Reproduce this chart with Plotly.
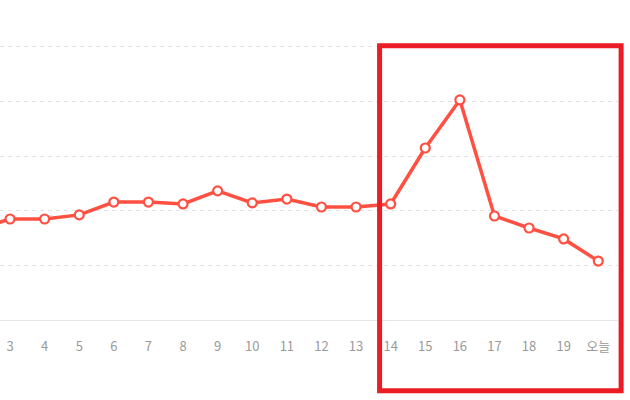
import plotly.graph_objects as go

# Data (first point "2" lies just left of the visible area)
days = ["2", "3", "4", "5", "6", "7", "8", "9", "10", "11", "12", "13",
        "14", "15", "16", "17", "18", "19", "오늘"]
values = [33.0, 37.0, 37.0, 38.5, 43.2, 43.2, 42.5, 47.3, 42.9, 44.3, 41.4, 41.4,
          42.5, 63.0, 80.6, 38.1, 33.7, 29.7, 21.6]
grid_values = [20, 40, 60, 80, 100]
highlight_from, highlight_to = "14", "오늘"

xpos = list(range(len(days)))
x_min, x_max = 0.71, 18.57

fig = go.Figure()
fig.add_trace(go.Scatter(
    x=xpos, y=values, mode="lines+markers",
    line=dict(color="#ff5042", width=3.5),
    marker=dict(size=9, color="white", line=dict(color="#ff5042", width=2.2)),
    hoverinfo="skip",
))

def to_paper(v):
    return (v - x_min) / (x_max - x_min)

i0 = days.index(highlight_from)
i1 = days.index(highlight_to)
fig.add_shape(type="rect", xref="paper", yref="paper",
              x0=to_paper(i0 - 0.32), x1=to_paper(i1 + 0.66),
              y0=-0.2575, y1=0.997,
              line=dict(color="#ec1c24", width=5), fillcolor="rgba(0,0,0,0)")

fig.update_layout(
    width=630, height=400,
    margin=dict(l=0, r=12, t=45, b=80),
    paper_bgcolor="white", plot_bgcolor="white",
    showlegend=False,
    font=dict(family="Noto Sans CJK KR, Noto Sans, sans-serif", size=13, color="#999999"),
    xaxis=dict(
        range=[x_min, x_max], tickmode="array", tickvals=xpos, ticktext=days,
        showgrid=False, zeroline=False, showline=True, linecolor="#e6e6e6", linewidth=1,
        ticks="", ticklabelstandoff=14, tickfont=dict(size=13, color="#9a9a9a"),
    ),
    yaxis=dict(
        range=[0, 100.73], tickmode="array", tickvals=grid_values,
        showticklabels=False, showgrid=True, gridcolor="#e3e3e3", griddash="4px,4px",
        gridwidth=1, zeroline=False, showline=False, ticks="",
    ),
)

fig.write_html("out.html", config={"displayModeBar": False},
               post_script="document.body.style.margin='0';")
